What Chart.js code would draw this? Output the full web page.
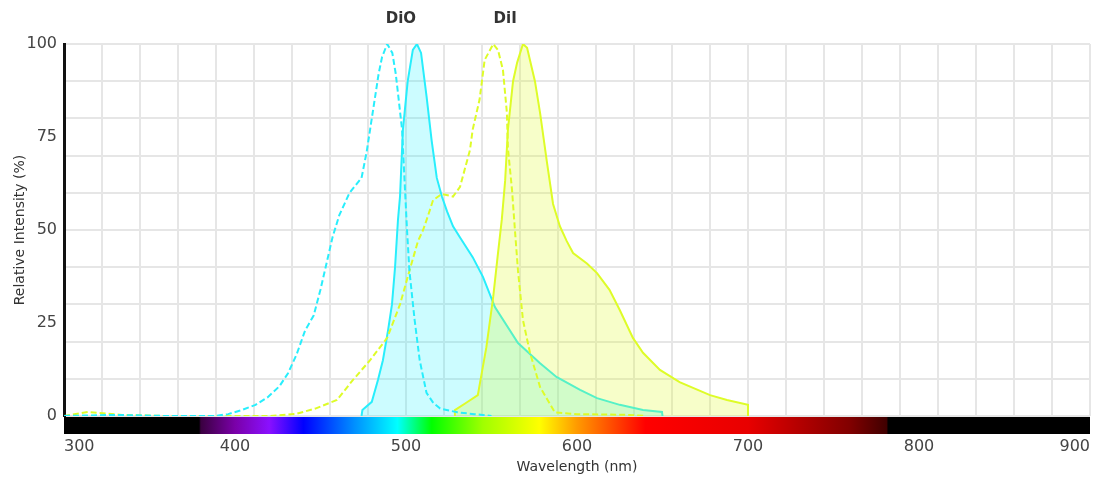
<!DOCTYPE html>
<html>
<head>
<meta charset="utf-8">
<script src="https://cdn.jsdelivr.net/npm/chart.js@4.4.1/dist/chart.umd.min.js"></script>
<style>
  html, body { margin: 0; padding: 0; background: #fff; }
  #wrap { width: 1093px; height: 477px; }
</style>
</head>
<body>
<div id="wrap"><canvas id="spectra" width="1093" height="477"></canvas></div>
<script>
// wavelengths (nm) and relative intensity (%)
const dioExWl  = [300, 330, 360, 388, 396, 404, 412, 419, 426, 431, 436, 441, 446, 450, 453, 457, 461, 467, 474, 477, 480, 482, 484, 486, 489, 492, 494, 495.5, 497.7, 499.4, 500.6, 502, 505, 508, 512, 516, 520, 530, 540, 550];
const dioExVal = [0, 0.3, 0, 0, 0.5, 1.6, 3, 5, 8, 11.5, 16.5, 23, 27, 34, 40, 48, 54, 60, 64, 71, 80, 86, 92, 96.5, 100, 97.6, 92, 86, 77, 61, 50, 39, 26, 15, 6.2, 3.5, 2, 1, 0.5, 0];

const dioEmWl  = [474, 474.5, 480, 483.6, 486.5, 489.5, 491.8, 493.6, 495.3, 496.5, 498.2, 501, 504, 506.4, 508.8, 512, 515, 518, 521, 524, 527.5, 531.6, 539, 545, 552, 565.5, 578.4, 588, 601.8, 611.7, 625, 638.6, 649.7, 650];
const dioEmVal = [0, 1.6, 3.8, 9.7, 15, 23, 30, 40, 52.7, 59, 77, 90, 98.4, 100, 97.6, 86, 74, 64, 59, 55, 51, 48, 42.7, 37.4, 29.3, 19.6, 14.2, 10.5, 7, 4.8, 3, 1.6, 1.1, 0];

const diiExWl  = [300, 314, 334, 360, 420, 436, 447, 459.6, 469, 479, 489, 496.5, 502, 507, 510, 513, 515.8, 521, 527.5, 531.6, 537.4, 539, 543, 546, 551, 553.8, 556.7, 559, 559.6, 562, 563.7, 565.5, 568.4, 572.5, 578.4, 587, 600, 630, 640];
const diiExVal = [0, 1.1, 0.3, 0, 0, 0.6, 2, 4.3, 9.7, 15, 21, 30, 39, 47, 50, 54, 58, 59.7, 59, 61.6, 71.5, 77, 85, 95.7, 100, 98.4, 93, 81.5, 72, 60.8, 50, 39, 25.8, 17, 7.8, 1, 0.5, 0.3, 0];

const diiEmWl  = [528.6, 528.6, 535, 542, 547, 551, 553.8, 556, 558, 559.6, 562.6, 565, 568.4, 570.8, 575.4, 578.4, 582.5, 586, 590, 594, 597.7, 605.8, 611.7, 619, 625, 632.7, 638.6, 648.5, 660, 677.8, 687.7, 700, 700];
const diiEmVal = [0, 1.6, 3.5, 5.6, 18.5, 32, 43.8, 52.7, 63.4, 77, 90, 95, 100, 99, 90, 81.5, 68, 57, 51, 47, 43.8, 41, 38.4, 33.9, 28.5, 21, 17, 12.4, 9.1, 5.6, 4.3, 3, 0];

const xTickLabels = [300, 400, 500, 600, 700, 800, 900];
const yTickLabels = [0, 25, 50, 75, 100];
const dyeNames = ['DiO', 'DiI'];
const dyeLabelWl = [497, 558];

// visible spectrum strip under the x axis: [nm, colour]
const spectrumStops = [
  [300, '#000000'], [379, '#000000'], [380, '#3a0040'], [400, '#7a00a8'], [420, '#8a10ff'],
  [440, '#0000ff'], [470, '#0090ff'], [495, '#00ffff'], [515, '#00ff00'], [545, '#a0ff00'],
  [578, '#ffff00'], [600, '#ff9a00'], [640, '#ff0000'], [700, '#e80000'], [760, '#800000'],
  [781, '#400000'], [782, '#000000'], [900, '#000000']
];

const pts = (xs, ys) => xs.map((x, i) => ({x: x, y: ys[i]}));

const CYAN = 'rgb(40,238,252)';
const YELLOW = 'rgb(222,252,40)';

const spectrumBar = {
  id: 'spectrumBar',
  afterDraw(chart) {
    const {ctx, chartArea, scales} = chart;
    const x0 = scales.x.getPixelForValue(300), x1 = scales.x.getPixelForValue(900);
    const g = ctx.createLinearGradient(x0, 0, x1, 0);
    spectrumStops.forEach(s => g.addColorStop((s[0] - 300) / 600, s[1]));
    ctx.save();
    ctx.fillStyle = g;
    ctx.fillRect(chartArea.left, chartArea.bottom + 1, chartArea.right - chartArea.left, 17);
    ctx.restore();
  }
};

const dyeTitles = {
  id: 'dyeTitles',
  afterDraw(chart) {
    const {ctx, scales} = chart;
    ctx.save();
    ctx.font = 'bold 15px "DejaVu Sans", sans-serif';
    ctx.fillStyle = '#333';
    ctx.textAlign = 'center';
    ctx.textBaseline = 'middle';
    dyeNames.forEach((n, i) => ctx.fillText(n, scales.x.getPixelForValue(dyeLabelWl[i]), 19));
    ctx.restore();
  }
};

new Chart(document.getElementById('spectra'), {
  type: 'line',
  data: {
    datasets: [
      { label: 'DiO Ex', data: pts(dioExWl, dioExVal), borderColor: CYAN, borderWidth: 2, borderDash: [6, 3], fill: false },
      { label: 'DiI Ex', data: pts(diiExWl, diiExVal), borderColor: YELLOW, borderWidth: 2, borderDash: [6, 3], fill: false },
      { label: 'DiI Em', data: pts(diiEmWl, diiEmVal), borderColor: YELLOW, borderWidth: 2, fill: 'origin', backgroundColor: 'rgba(222,250,40,0.25)' },
      { label: 'DiO Em', data: pts(dioEmWl, dioEmVal), borderColor: CYAN, borderWidth: 2, fill: 'origin', backgroundColor: 'rgba(0,240,255,0.2)' }
    ]
  },
  options: {
    responsive: false,
    animation: false,
    layout: { padding: { left: 0, right: 3, top: 44, bottom: 0 } },
    elements: { point: { radius: 0 }, line: { tension: 0 } },
    plugins: { legend: { display: false }, tooltip: { enabled: false } },
    scales: {
      x: {
        type: 'linear', min: 300, max: 900,
        afterBuildTicks(scale) {
          const t = [];
          for (let i = 0; i <= 54; i++) t.push({value: 300 + i * 100 / 9});
          scale.ticks = t;
        },
        afterFit(scale) { scale.height = 61; scale.paddingLeft = 0; scale.paddingRight = 0; },
        border: { display: false },
        grid: {
          drawTicks: false, lineWidth: 2,
          color: c => (c.index % 2 === 0 ? '#e6e6e6' : 'rgba(0,0,0,0)')
        },
        ticks: {
          autoSkip: false, maxRotation: 0, align: 'inner', padding: 21,
          color: '#444', font: { family: '"DejaVu Sans", sans-serif', size: 16 },
          callback: (v, i) => {
            const r = Math.round(v);
            return (i % 9 === 0 && xTickLabels.includes(r)) ? String(r) : '';
          }
        },
        title: { display: true, text: 'Wavelength (nm)', color: '#333', padding: { top: 0, bottom: 1 },
                 font: { family: '"DejaVu Sans", sans-serif', size: 14 } }
      },
      y: {
        min: 0, max: 100,
        afterFit(scale) { scale.width = 64; scale.paddingTop = 0; scale.paddingBottom = 0; },
        border: { display: true, color: '#111', width: 3 },
        grid: {
          drawTicks: false, lineWidth: 2,
          color: c => (c.tick.value % 10 === 0 ? '#e6e6e6' : 'rgba(0,0,0,0)')
        },
        ticks: {
          stepSize: 5, autoSkip: false, padding: 7,
          color: '#444', font: { family: '"DejaVu Sans", sans-serif', size: 16 },
          callback: v => (yTickLabels.includes(v) ? String(v) : '')
        },
        title: { display: true, text: 'Relative Intensity (%)', color: '#333', padding: { top: 12, bottom: 0 },
                 font: { family: '"DejaVu Sans", sans-serif', size: 14 } }
      }
    }
  },
  plugins: [spectrumBar, dyeTitles]
});
</script>
</body>
</html>
